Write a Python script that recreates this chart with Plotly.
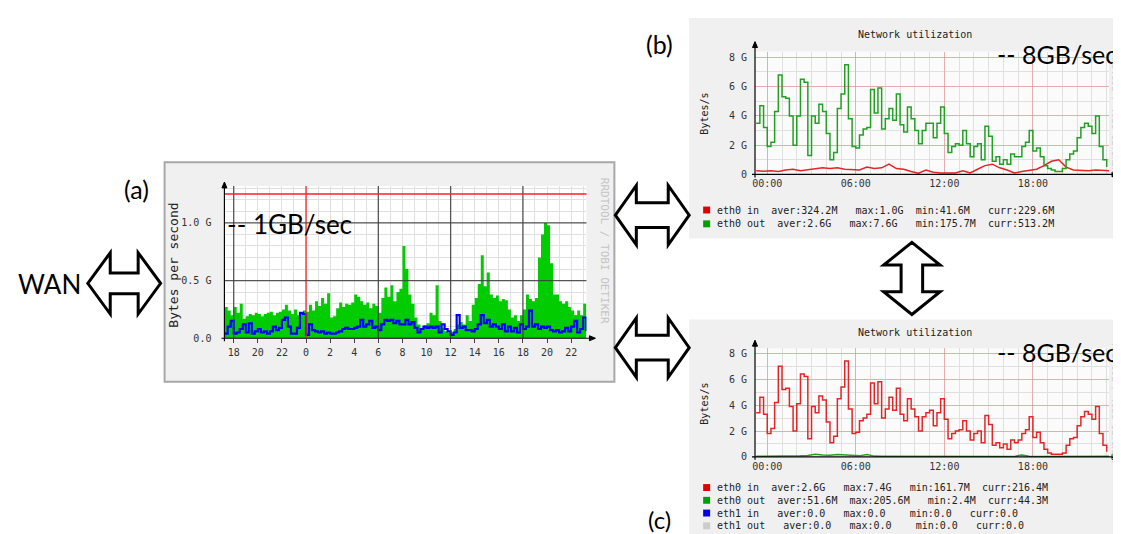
import plotly.graph_objects as go

W, H = 1121, 534

# ---------------- DATA ----------------
# Panel (a): WAN link, bytes per second (in G), 15-minute samples, hours relative to midnight
a_t0, a_dt = -6.75, 0.25
a_total = [0.27, 0.24, 0.20, 0.27,
           0.22, 0.30, 0.17, 0.19,
           0.21, 0.20, 0.22, 0.21,
           0.19, 0.21, 0.22, 0.23,
           0.20, 0.22, 0.23, 0.25,
           0.29, 0.24, 0.21, 0.25,
           0.20, 0.22, 0.24, 0.23,
           0.29, 0.24, 0.32, 0.28,
           0.35, 0.30, 0.39, 0.18,
           0.19, 0.26, 0.31, 0.27,
           0.30, 0.29, 0.31, 0.38,
           0.36, 0.32, 0.29, 0.31,
           0.26, 0.30, 0.28, 0.22,
           0.35, 0.44, 0.36, 0.46,
           0.32, 0.40, 0.43, 0.80,
           0.60, 0.38, 0.30, 0.18,
           0.12, 0.09, 0.11, 0.13,
           0.22, 0.20, 0.46, 0.15,
           0.09, 0.06, 0.05, 0.05,
           0.08, 0.12, 0.14, 0.12,
           0.20, 0.15, 0.29, 0.35,
           0.47, 0.72, 0.45, 0.57,
           0.38, 0.35, 0.37, 0.32,
           0.34, 0.33, 0.25, 0.18,
           0.20, 0.15, 0.20, 0.25,
           0.38, 0.34, 0.32, 0.35,
           0.70, 0.90, 1.00, 0.98,
           0.65, 0.38, 0.38, 0.32,
           0.30, 0.32, 0.27, 0.24,
           0.20, 0.24, 0.20, 0.30,
           0.28]
a_blue = [0.04, 0.10, 0.15, 0.04,
          0.05, 0.08, 0.12, 0.05,
          0.13, 0.04, 0.06, 0.08,
          0.05, 0.06, 0.04, 0.06,
          0.10, 0.07, 0.09, 0.16,
          0.18, 0.10, 0.04, 0.04,
          0.09, 0.22, 0.21, 0.03,
          0.12, 0.07, 0.06, 0.05,
          0.06, 0.04, 0.05, 0.04,
          0.04, 0.05, 0.06, 0.08,
          0.09, 0.08, 0.08, 0.09,
          0.10, 0.16, 0.10, 0.12,
          0.15, 0.09, 0.10, 0.07,
          0.12, 0.16, 0.15, 0.16,
          0.13, 0.15, 0.12, 0.12,
          0.16, 0.12, 0.14, 0.09,
          0.05, 0.08, 0.10, 0.09,
          0.10, 0.09, 0.10, 0.05,
          0.12, 0.08, 0.06, 0.03,
          0.05, 0.20, 0.09, 0.10,
          0.07, 0.07, 0.06, 0.08,
          0.12, 0.20, 0.13, 0.16,
          0.10, 0.12, 0.10, 0.08,
          0.12, 0.06, 0.10, 0.06,
          0.09, 0.05, 0.12, 0.08,
          0.10, 0.24, 0.10, 0.12,
          0.08, 0.10, 0.09, 0.10,
          0.07, 0.06, 0.07, 0.05,
          0.06, 0.09, 0.06, 0.10,
          0.15, 0.05, 0.08, 0.18,
          0.06]
a_limit = 1.25
a_xtick_vals = [-6, -4, -2, 0, 2, 4, 6, 8, 10, 12, 14, 16, 18, 20, 22]
a_xtick_text = ["18", "20", "22", "0", "2", "4", "6", "8", "10", "12", "14", "16", "18", "20", "22"]
a_ytick_vals = [0, 0.5, 1.0]
a_ytick_text = ["0.0", "0.5 G", "1.0 G"]
a_major_x = [-6, 6, 12, 18]
a_midnight = 0
a_major_y = [0.5, 1.0]

# Panels (b) and (c): server NIC, bytes per second (in G)
bc_t0, bc_dt = -0.75, 0.25        # 15-minute samples for the busy series
bc_s0, bc_ds = -0.75, 0.5         # 30-minute samples for the quiet series
b_eth0_out = [3.5, 4.7, 3.2, 1.9,
              2.2, 4.3, 6.8, 5.3,
              5.2, 4.0, 2.0, 4.0,
              6.5, 6.3, 1.3, 4.0,
              3.5, 4.8, 4.3, 2.8,
              1.0, 1.5, 4.5, 5.5,
              7.5, 3.8, 1.9, 1.8,
              2.7, 3.1, 3.2, 5.8,
              4.2, 5.9, 3.1, 3.8,
              4.5, 3.7, 5.5, 3.4,
              2.9, 4.6, 3.8, 3.0,
              2.1, 3.0, 3.5, 3.5,
              2.5, 3.5, 4.6, 2.8,
              1.5, 1.9, 2.1, 2.0,
              3.0, 2.1, 1.2, 1.9,
              2.1, 1.0, 3.3, 2.6,
              0.9, 1.2, 0.7, 1.0,
              0.7, 1.4, 1.2, 1.2,
              1.9, 2.2, 3.0, 1.6,
              1.8, 1.2, 0.6, 0.4,
              0.3, 0.2, 0.2, 0.4,
              1.0, 1.4, 1.6, 2.5,
              3.2, 3.5, 3.3, 2.8,
              4.0, 1.9, 1.0, 0.5]
b_eth0_in = [0.25, 0.22, 0.25, 0.20, 0.30, 0.35, 0.25, 0.30,
             0.40, 0.45, 0.40, 0.45, 0.35, 0.35, 0.30, 0.50,
             0.40, 0.45, 0.70, 0.40, 0.35, 0.20, 0.08, 0.30,
             0.15, 0.10, 0.10, 0.10, 0.25, 0.10, 0.35, 0.60,
             0.70, 0.45, 0.30, 0.10, 0.20, 0.30, 0.35, 0.60,
             0.90, 1.00, 0.50, 0.30, 0.25, 0.25, 0.30, 0.25,
             0.25]
c_eth0_in = [3.4, 4.6, 3.3, 1.8,
             2.2, 4.2, 7.0, 5.2,
             5.3, 3.9, 2.0, 4.1,
             6.4, 6.2, 1.4, 3.9,
             3.4, 4.7, 4.4, 2.7,
             1.1, 1.6, 4.5, 5.4,
             7.4, 3.7, 1.8, 1.9,
             2.8, 3.0, 3.3, 5.7,
             4.1, 5.8, 3.0, 3.7,
             4.6, 3.6, 5.3, 3.3,
             2.8, 4.5, 3.7, 3.1,
             2.0, 3.1, 3.4, 3.6,
             2.4, 3.4, 4.5, 2.9,
             1.4, 1.8, 2.0, 2.1,
             2.8, 2.0, 1.3, 1.8,
             2.0, 1.1, 3.2, 2.5,
             0.9, 1.1, 0.7, 1.0,
             0.6, 1.3, 1.1, 1.3,
             1.8, 2.1, 3.1, 1.5,
             1.9, 1.1, 0.6, 0.3,
             0.2, 0.2, 0.2, 0.3,
             0.9, 1.4, 1.5, 2.4,
             3.1, 3.5, 3.3, 2.9,
             3.9, 1.8, 0.9, 0.4]
c_eth0_out = [0.05, 0.05, 0.04, 0.05, 0.05, 0.06, 0.08, 0.10,
              0.20, 0.15, 0.12, 0.18, 0.15, 0.10, 0.08, 0.18,
              0.06, 0.05, 0.05, 0.05, 0.04, 0.05, 0.04, 0.03,
              0.03, 0.03, 0.04, 0.05, 0.06, 0.05, 0.04, 0.04,
              0.05, 0.05, 0.04, 0.04, 0.15, 0.05, 0.04, 0.04,
              0.03, 0.03, 0.03, 0.04, 0.04, 0.04, 0.05, 0.05,
              0.05]
bc_xtick_vals = [0, 6, 12, 18]
bc_xtick_text = ["00:00", "06:00", "12:00", "18:00"]
bc_ytick_vals = [0, 2, 4, 6, 8]
bc_ytick_text = ["0", "2 G", "4 G", "6 G", "8 G"]

b_legend_rows = ["eth0 in  aver:324.2M   max:1.0G  min:41.6M   curr:229.6M",
                 "eth0 out  aver:2.6G   max:7.6G   min:175.7M  curr:513.2M"]
b_legend_colors = ["#e00000", "#00a000"]
c_legend_rows = ["eth0 in  aver:2.6G   max:7.4G   min:161.7M  curr:216.4M",
                 "eth0 out  aver:51.6M  max:205.6M   min:2.4M  curr:44.3M",
                 "eth1 in   aver:0.0   max:0.0    min:0.0   curr:0.0",
                 "eth1 out   aver:0.0   max:0.0    min:0.0   curr:0.0"]
c_legend_colors = ["#e00000", "#00a000", "#0000ee", "#cccccc"]

# ---------------- HELPERS ----------------
MONO = "DejaVu Sans Mono"
SANS = "Lato"


def fx(x):
    return x / W


def fy(y):
    return 1 - y / H


def times(t0, dt, n):
    return [t0 + i * dt for i in range(n)]


def poly(points):
    return "M " + " L ".join(f"{fx(x):.5f},{fy(y):.5f}" for x, y in points) + " Z"


def harrow(xl, xr, yc, hh, sh, hl):
    return poly([(xl, yc), (xl + hl, yc - hh), (xl + hl, yc - sh), (xr - hl, yc - sh),
                 (xr - hl, yc - hh), (xr, yc), (xr - hl, yc + hh), (xr - hl, yc + sh),
                 (xl + hl, yc + sh), (xl + hl, yc + hh)])


def varrow(xc, yt, yb, hw, sw, hl):
    return poly([(xc, yt), (xc + hw, yt + hl), (xc + sw, yt + hl), (xc + sw, yb - hl),
                 (xc + hw, yb - hl), (xc, yb), (xc - hw, yb - hl), (xc - sw, yb - hl),
                 (xc - sw, yt + hl), (xc - hw, yt + hl)])


def prect(x0, y0, x1, y1, fill, line=None, lw=0):
    return dict(type="rect", xref="paper", yref="paper", x0=fx(x0), x1=fx(x1),
                y0=fy(y1), y1=fy(y0), fillcolor=fill, layer="below",
                line=dict(color=line or fill, width=lw))


def pline(x0, y0, x1, y1, color="#000", w=1):
    return dict(type="line", xref="paper", yref="paper", x0=fx(x0), x1=fx(x1),
                y0=fy(y0), y1=fy(y1), line=dict(color=color, width=w), layer="above")


def tri(points, color="#000"):
    return dict(type="path", xref="paper", yref="paper", path=poly(points),
                fillcolor=color, line=dict(color=color, width=1), layer="above")


fig = go.Figure()

# ---------------- TRACES ----------------
fig.add_trace(go.Scatter(x=times(a_t0, a_dt, len(a_total)), y=a_total, mode="lines",
                         line=dict(width=0, shape="hv"), fill="tozeroy",
                         fillcolor="#00cc00", xaxis="x", yaxis="y", hoverinfo="skip"))
fig.add_trace(go.Scatter(x=times(a_t0, a_dt, len(a_blue)), y=a_blue, mode="lines",
                         line=dict(width=2.2, color="#0000ff", shape="hv"),
                         xaxis="x", yaxis="y", hoverinfo="skip"))

fig.add_trace(go.Scatter(x=times(bc_s0, bc_ds, len(b_eth0_in)), y=b_eth0_in, mode="lines",
                         line=dict(width=1.5, color="#e52525"), xaxis="x2", yaxis="y2",
                         hoverinfo="skip"))
fig.add_trace(go.Scatter(x=times(bc_t0, bc_dt, len(b_eth0_out)), y=b_eth0_out, mode="lines",
                         line=dict(width=1.5, color="#22a022", shape="hv"), xaxis="x2",
                         yaxis="y2", hoverinfo="skip"))

fig.add_trace(go.Scatter(x=times(bc_s0, bc_ds, len(c_eth0_out)), y=c_eth0_out, mode="lines",
                         line=dict(width=1.5, color="#22a022"), xaxis="x3", yaxis="y3",
                         hoverinfo="skip"))
fig.add_trace(go.Scatter(x=times(bc_t0, bc_dt, len(c_eth0_in)), y=c_eth0_in, mode="lines",
                         line=dict(width=1.5, color="#e52525", shape="hv"), xaxis="x3",
                         yaxis="y3", hoverinfo="skip"))

# ---------------- AXES ----------------
tickfont = dict(family=MONO, size=10, color="#333")
light = "#e0e0e0"
redgrid = "rgba(235,110,110,0.45)"

layout_axes = dict(
    xaxis=dict(domain=[fx(214), fx(577)], range=[-6.77, 23.27], anchor="y",
               tickmode="array", tickvals=a_xtick_vals, ticktext=a_xtick_text,
               showgrid=False, zeroline=False, ticks="outside", ticklen=4,
               tickcolor="#444", tickfont=tickfont, ticklabelstandoff=1,
               minor=dict(tickmode="linear", tick0=0, dtick=1, showgrid=True,
                          gridcolor=light, gridwidth=1)),
    yaxis=dict(domain=[fy(334), fy(180)], range=[0, 1.32], anchor="x",
               tickmode="array", tickvals=a_ytick_vals, ticktext=a_ytick_text,
               showgrid=False, zeroline=False, tickfont=tickfont, ticklabelstandoff=12,
               minor=dict(tickmode="linear", tick0=0, dtick=0.1, showgrid=True,
                          gridcolor=light, gridwidth=1)),
)
for i, (ytop, ybot) in ((2, (44, 168.3)), (3, (344, 454))):
    layout_axes[f"xaxis{i}"] = dict(
        domain=[fx(746), fx(1101)], range=[-0.83, 23.16], anchor=f"y{i}",
        tickmode="array", tickvals=bc_xtick_vals, ticktext=bc_xtick_text,
        showgrid=True, gridcolor=redgrid, zeroline=False, tickfont=tickfont,
        ticklabelstandoff=2,
        minor=dict(tickmode="linear", tick0=0, dtick=1, showgrid=True,
                   gridcolor=light, gridwidth=1))
    layout_axes[f"yaxis{i}"] = dict(
        domain=[fy(ybot), fy(ytop)], range=[0, 8.4], anchor=f"x{i}",
        tickmode="array", tickvals=bc_ytick_vals, ticktext=bc_ytick_text,
        showgrid=True, gridcolor=redgrid, zeroline=False, tickfont=tickfont,
        ticklabelstandoff=7,
        minor=dict(tickmode="linear", tick0=0, dtick=1, showgrid=True,
                   gridcolor=light, gridwidth=1))

# ---------------- SHAPES ----------------
shapes = [
    prect(154, 156, 605, 378, "#f0f0f0", "#a8a8a8", 2),
    prect(214, 180, 577, 334, "#ffffff"),
    prect(680, 10, 1125, 233, "#f0f0f0"),
    prect(746, 44, 1101, 168.3, "#fbfbfb"),
    prect(680, 315, 1125, 540, "#f0f0f0"),
    prect(746, 344, 1101, 454, "#fbfbfb"),
]
# panel (a) major grid drawn over the data, rrdtool style
for v in a_major_x:
    shapes.append(dict(type="line", xref="x", yref="y domain", x0=v, x1=v, y0=0, y1=1,
                       line=dict(color="rgba(60,60,60,0.85)", width=1.3), layer="above"))
shapes.append(dict(type="line", xref="x", yref="y domain", x0=a_midnight, x1=a_midnight,
                   y0=0, y1=1, line=dict(color="#ff2020", width=1.3), layer="above"))
for v in a_major_y:
    shapes.append(dict(type="line", xref="x domain", yref="y", x0=0, x1=1, y0=v, y1=v,
                       line=dict(color="rgba(60,60,60,0.85)", width=1.3), layer="above"))
shapes.append(dict(type="line", xref="x domain", yref="y", x0=0, x1=1, y0=a_limit,
                   y1=a_limit, line=dict(color="#ff2020", width=1.6), layer="above"))

# axis lines with arrow heads
for (xa, ytop, ybot, xend) in ((214, 180, 334, 582), (746, 38, 168.3, 1106), (746, 340, 454, 1106)):
    shapes.append(pline(xa, ybot + 3, xa, ytop, "#000", 1.2))
    shapes.append(pline(xa - 3, ybot, xend, ybot, "#000", 1.2))
    shapes.append(tri([(xa, ytop - 4), (xa - 2.5, ytop + 2), (xa + 2.5, ytop + 2)]))
    shapes.append(tri([(xend + 4, ybot), (xend - 2, ybot - 2.5), (xend - 2, ybot + 2.5)]))

# block arrows
arrow_style = dict(type="path", xref="paper", yref="paper", fillcolor="#ffffff",
                   line=dict(color="#000", width=3), layer="above")
shapes.append(dict(path=harrow(77, 150, 278.5, 31, 10.5, 22.5), **arrow_style))
shapes.append(dict(path=harrow(606, 680, 209.5, 30, 12.5, 21), **arrow_style))
shapes.append(dict(path=harrow(606, 680, 343.5, 30, 12.5, 21), **arrow_style))
shapes.append(dict(path=varrow(903.3, 237, 310, 28.3, 10.8, 23), **arrow_style))

# legend swatches
for rows, colors, y0 in ((b_legend_rows, b_legend_colors, 204.3),
                         (c_legend_rows, c_legend_colors, 485)):
    for k, col in enumerate(colors):
        yy = y0 + k * (14 if y0 < 300 else 12.9)
        shapes.append(prect(694, yy - 3.5, 701, yy + 3.5, col))
        shapes[-1]["layer"] = "above"

# ---------------- ANNOTATIONS ----------------
ann = []


def text(x, y, s, size, family=SANS, color="#000", xanchor="center", angle=0):
    ann.append(dict(x=fx(x), y=fy(y), xref="paper", yref="paper", text=s, showarrow=False,
                    font=dict(family=family, size=size, color=color), xanchor=xanchor,
                    yanchor="middle", textangle=angle, borderpad=0))


text(126, 183, "(a)", 25)
text(650, 36, "(b)", 25)
text(650, 517, "(c)", 24)
text(39, 279, "WAN", 26)
text(216, 218.5, "-- 1GB/sec", 26, xanchor="left")
text(988, 46.7, "-- 8GB/sec", 25, xanchor="left")
text(988, 348.3, "-- 8GB/sec", 25, xanchor="left")

text(163, 260, "Bytes per second", 13, MONO, "#222", angle=-90)
text(595, 246, "RRDTOOL / TOBI OETIKER", 11, MONO, "#c4c4c4", angle=90)
for yt, yc in ((26.7, 106.7), (328.3, 400)):
    text(906, yt, "Network utilization", 10, MONO, "#222")
    text(695, yc, "Bytes/s", 10, MONO, "#222", angle=-90)
    text(1107, yc, "RRDTOOL / TOBI OETIKER", 9, MONO, "#cccccc", angle=90)

for rows, y0, dy in ((b_legend_rows, 204.3, 14), (c_legend_rows, 485, 12.9)):
    for k, row in enumerate(rows):
        text(706.5, y0 + k * dy, row.replace(" ", "\u00a0"), 10, MONO, "#222", xanchor="left")

fig.update_layout(
    width=W, height=H, margin=dict(l=0, r=0, t=0, b=0),
    paper_bgcolor="#ffffff", plot_bgcolor="rgba(0,0,0,0)",
    showlegend=False, shapes=shapes, annotations=ann, **layout_axes,
)

fig.write_html("out.html")
